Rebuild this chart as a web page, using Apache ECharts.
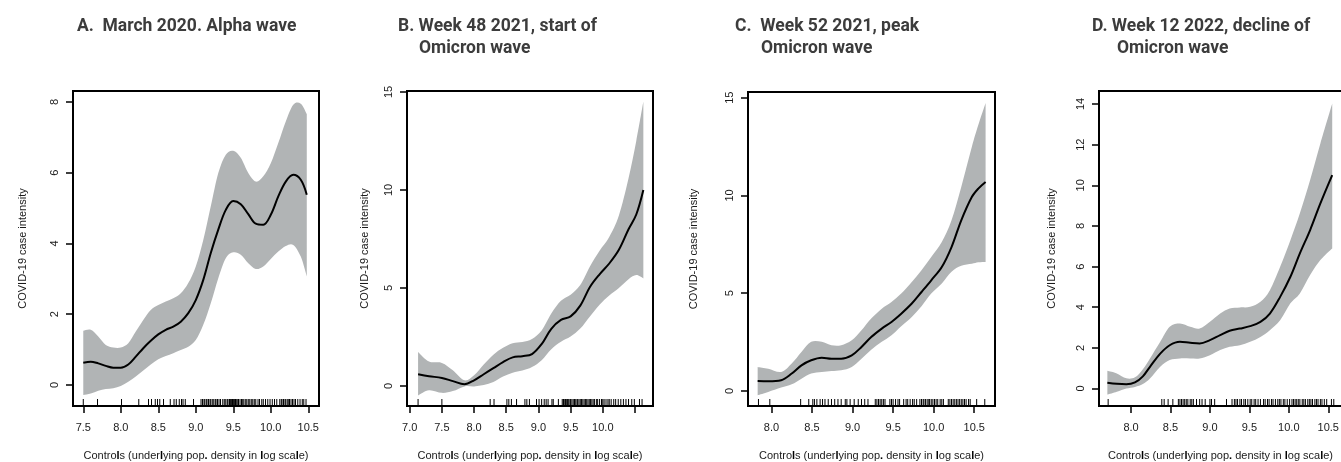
<!DOCTYPE html>
<html>
<head>
<meta charset="utf-8">
<title>COVID-19 case intensity by controls</title>
<script src="https://cdn.jsdelivr.net/npm/echarts@6.0.0/dist/echarts.min.js"></script>
<style>
    html, body { margin: 0; padding: 0; background: #fff; }
    #main { width: 1341px; height: 462px; }
</style>
</head>
<body>
<div id="main"></div>
<script>
// 面板标题 (第二行缩进)
var titleA = ['A.  March 2020. Alpha wave'];
var titleB = ['B. Week 48 2021, start of', 'Omicron wave'];
var titleC = ['C.  Week 52 2021, peak', 'Omicron wave'];
var titleD = ['D. Week 12 2022, decline of', 'Omicron wave'];

// A. March 2020
var xA     = [7.5, 7.6, 7.7, 7.8, 7.9, 8.0, 8.1, 8.2, 8.3, 8.4, 8.5, 8.6, 8.7, 8.8, 8.9, 9.0, 9.1, 9.2, 9.3, 9.4, 9.5, 9.6, 9.7, 9.8, 9.9, 10.0, 10.1, 10.2, 10.3, 10.4, 10.48];
var meanA  = [0.63, 0.66, 0.61, 0.54, 0.49, 0.49, 0.58, 0.8, 1.04, 1.25, 1.43, 1.56, 1.65, 1.79, 2.03, 2.4, 2.97, 3.73, 4.39, 4.95, 5.2, 5.11, 4.83, 4.56, 4.53, 4.81, 5.33, 5.75, 5.94, 5.8, 5.38];
var upperA = [1.53, 1.56, 1.37, 1.13, 1.06, 1.06, 1.18, 1.51, 1.84, 2.12, 2.26, 2.36, 2.45, 2.59, 2.88, 3.35, 4.1, 5.05, 5.99, 6.51, 6.62, 6.42, 5.99, 5.75, 5.9, 6.27, 6.84, 7.45, 7.92, 7.95, 7.66];
var lowerA = [-0.28, -0.24, -0.16, -0.11, -0.09, -0.03, 0.09, 0.24, 0.41, 0.58, 0.73, 0.82, 0.9, 0.99, 1.08, 1.27, 1.7, 2.31, 3.02, 3.58, 3.75, 3.68, 3.44, 3.28, 3.35, 3.56, 3.77, 3.93, 3.96, 3.63, 3.07];
var rugA   = [7.5, 7.69, 8.01, 8.24, 8.37, 8.41, 8.46, 8.49, 8.52, 8.57, 8.66, 8.71, 8.74, 8.78, 8.81, 8.83, 8.86, 8.97, 9.07, 9.09, 9.11, 9.12, 9.14, 9.15, 9.17, 9.19, 9.2, 9.22, 9.24, 9.26, 9.27, 9.29, 9.31, 9.33, 9.36, 9.38, 9.4, 9.42, 9.43, 9.45, 9.46, 9.47, 9.48, 9.49, 9.5, 9.51, 9.52, 9.53, 9.54, 9.56, 9.57, 9.59, 9.61, 9.62, 9.64, 9.66, 9.68, 9.7, 9.72, 9.74, 9.76, 9.78, 9.8, 9.83, 9.85, 9.88, 9.9, 9.93, 9.96, 9.99, 10.02, 10.05, 10.08, 10.12, 10.14, 10.15, 10.17, 10.19, 10.2, 10.22, 10.24, 10.25, 10.27, 10.29, 10.31, 10.33, 10.36, 10.39, 10.42, 10.44, 10.47];
var xTicksA = [7.5, 8, 8.5, 9, 9.5, 10, 10.5];
var xLabelsA = [7.5, 8, 8.5, 9, 9.5, 10, 10.5];
var yTicksA = [0, 2, 4, 6, 8];

// B. Week 48 2021
var xB     = [7.13, 7.3, 7.5, 7.67, 7.85, 8.0, 8.15, 8.3, 8.45, 8.6, 8.75, 8.9, 9.05, 9.2, 9.35, 9.5, 9.65, 9.8, 9.95, 10.1, 10.25, 10.4, 10.52, 10.63];
var meanB  = [0.6, 0.5, 0.41, 0.25, 0.09, 0.29, 0.6, 0.91, 1.22, 1.46, 1.52, 1.63, 2.14, 2.92, 3.37, 3.55, 4.1, 5.05, 5.7, 6.25, 6.95, 8.0, 8.75, 10.0];
var upperB = [1.74, 1.25, 1.18, 0.8, 0.29, 0.55, 1.1, 1.6, 1.95, 2.18, 2.24, 2.4, 2.83, 3.7, 4.35, 4.66, 5.15, 6.1, 6.9, 7.6, 8.7, 10.6, 12.5, 14.51];
var lowerB = [-0.48, -0.22, -0.35, -0.26, -0.02, -0.02, 0.05, 0.2, 0.48, 0.68, 0.79, 0.97, 1.32, 1.88, 2.26, 2.52, 2.93, 3.55, 4.15, 4.62, 5.0, 5.45, 5.66, 5.49];
var rugB   = [7.13, 7.5, 8.25, 8.31, 8.51, 8.54, 8.58, 8.66, 8.79, 8.82, 8.86, 8.97, 9.01, 9.05, 9.09, 9.12, 9.15, 9.21, 9.23, 9.31, 9.37, 9.39, 9.4, 9.42, 9.44, 9.45, 9.47, 9.49, 9.5, 9.52, 9.54, 9.56, 9.58, 9.6, 9.61, 9.63, 9.65, 9.67, 9.69, 9.71, 9.73, 9.75, 9.77, 9.79, 9.81, 9.83, 9.85, 9.87, 9.9, 9.92, 9.95, 9.98, 10.0, 10.02, 10.05, 10.08, 10.1, 10.13, 10.17, 10.2, 10.24, 10.28, 10.32, 10.36, 10.4, 10.45, 10.49, 10.57, 10.61];
var xTicksB = [7, 7.5, 8, 8.5, 9, 9.5, 10, 10.5];
var xLabelsB = [7, 7.5, 8, 8.5, 9, 9.5, 10];
var yTicksB = [0, 5, 10, 15];

// C. Week 52 2021
var xC     = [7.83, 7.96, 8.12, 8.25, 8.37, 8.49, 8.62, 8.74, 8.86, 8.99, 9.11, 9.23, 9.36, 9.48, 9.6, 9.73, 9.85, 9.97, 10.1, 10.22, 10.34, 10.47, 10.55, 10.64];
var meanC  = [0.51, 0.5, 0.55, 0.89, 1.31, 1.57, 1.7, 1.65, 1.65, 1.82, 2.25, 2.76, 3.19, 3.53, 3.95, 4.47, 5.06, 5.66, 6.34, 7.36, 8.73, 9.92, 10.35, 10.69];
var upperC = [1.23, 1.14, 0.97, 1.4, 1.99, 2.51, 2.51, 2.34, 2.34, 2.59, 3.1, 3.7, 4.21, 4.55, 4.98, 5.57, 6.17, 6.85, 7.62, 8.73, 10.43, 12.48, 13.6, 14.73];
var lowerC = [-0.22, -0.05, 0.17, 0.34, 0.63, 0.89, 0.97, 1.02, 1.06, 1.23, 1.65, 2.11, 2.51, 2.85, 3.31, 3.78, 4.33, 4.98, 5.5, 6.1, 6.4, 6.5, 6.58, 6.6];
var rugC   = [7.84, 7.98, 8.36, 8.46, 8.51, 8.53, 8.56, 8.6, 8.63, 8.66, 8.7, 8.74, 8.78, 8.82, 8.86, 8.91, 8.93, 8.97, 9.02, 9.07, 9.11, 9.15, 9.19, 9.28, 9.3, 9.32, 9.34, 9.36, 9.38, 9.4, 9.46, 9.48, 9.5, 9.53, 9.56, 9.58, 9.63, 9.66, 9.68, 9.71, 9.74, 9.76, 9.79, 9.83, 9.85, 9.87, 9.88, 9.9, 9.92, 9.94, 9.95, 9.97, 9.99, 10.01, 10.03, 10.05, 10.08, 10.1, 10.12, 10.18, 10.2, 10.22, 10.24, 10.26, 10.28, 10.3, 10.32, 10.34, 10.36, 10.38, 10.4, 10.43, 10.45, 10.53, 10.63];
var xTicksC = [8, 8.5, 9, 9.5, 10, 10.5];
var xLabelsC = [8, 8.5, 9, 9.5, 10, 10.5];
var yTicksC = [0, 5, 10, 15];

// D. Week 12 2022
var xD     = [7.7, 7.82, 7.94, 8.05, 8.15, 8.24, 8.37, 8.49, 8.62, 8.75, 8.87, 9.0, 9.13, 9.25, 9.38, 9.51, 9.64, 9.76, 9.89, 10.02, 10.14, 10.27, 10.4, 10.55];
var meanD  = [0.28, 0.23, 0.21, 0.3, 0.6, 1.07, 1.72, 2.13, 2.3, 2.25, 2.22, 2.38, 2.63, 2.84, 2.95, 3.07, 3.28, 3.69, 4.51, 5.5, 6.65, 7.8, 9.11, 10.5];
var upperD = [0.87, 0.74, 0.5, 0.55, 0.95, 1.48, 2.3, 3.04, 3.2, 3.04, 2.95, 3.28, 3.69, 3.94, 3.99, 4.02, 4.27, 4.84, 5.99, 7.3, 8.62, 10.26, 12.06, 14.03];
var lowerD = [-0.3, -0.16, 0.0, 0.08, 0.22, 0.49, 1.07, 1.4, 1.48, 1.48, 1.48, 1.64, 1.89, 2.05, 2.13, 2.3, 2.54, 2.87, 3.36, 4.19, 4.68, 5.58, 6.32, 6.89];
var rugD   = [7.71, 8.39, 8.42, 8.47, 8.53, 8.6, 8.62, 8.64, 8.66, 8.68, 8.7, 8.72, 8.75, 8.77, 8.79, 8.83, 8.87, 8.9, 8.94, 9.0, 9.02, 9.06, 9.21, 9.28, 9.31, 9.33, 9.35, 9.38, 9.4, 9.43, 9.45, 9.48, 9.51, 9.53, 9.56, 9.58, 9.61, 9.64, 9.68, 9.7, 9.73, 9.75, 9.78, 9.8, 9.83, 9.86, 9.88, 9.9, 9.93, 9.95, 9.98, 10.01, 10.04, 10.06, 10.08, 10.1, 10.12, 10.14, 10.17, 10.19, 10.21, 10.24, 10.26, 10.28, 10.3, 10.33, 10.35, 10.37, 10.4, 10.42, 10.45, 10.48, 10.54, 10.57];
var xTicksD = [8, 8.5, 9, 9.5, 10, 10.5];
var xLabelsD = [8, 8.5, 9, 9.5, 10, 10.5];
var yTicksD = [0, 2, 4, 6, 8, 10, 12, 14];

var Y_NAME = 'COVID-19 case intensity';
// 原图里 l 和 . 显得加粗
var X_NAME = 'Contro{b|l}s (under{b|l}ying pop{b|.} density in {b|l}og sca{b|l}e)';

var BAND = '#b1b4b5';
var AXIS_FONT = '"Liberation Sans", Arial, sans-serif';
var TITLE_FONT = 'Roboto, "Noto Sans", sans-serif';

// 布局 (px) 和坐标范围
var panels = [
    { title: titleA, tx: [77], grid: [73, 91, 246, 315], xr: [7.363, 10.643], yr: [-0.594, 8.31], yGap: 45,
      x: xA, mean: meanA, upper: upperA, lower: lowerA, rug: rugA, xt: xTicksA, xl: xLabelsA, yt: yTicksA },
    { title: titleB, tx: [398, 419], grid: [407, 91, 246, 315], xr: [6.958, 10.78], yr: [-1.02, 15.05], yGap: 37,
      x: xB, mean: meanB, upper: upperB, lower: lowerB, rug: rugB, xt: xTicksB, xl: xLabelsB, yt: yTicksB },
    { title: titleC, tx: [735, 761], grid: [748, 92, 247, 314], xr: [7.711, 10.756], yr: [-0.77, 15.29], yGap: 49,
      x: xC, mean: meanC, upper: upperC, lower: lowerC, rug: rugC, xt: xTicksC, xl: xLabelsC, yt: yTicksC },
    { title: titleD, tx: [1092, 1117], grid: [1099, 91, 243, 315], xr: [7.594, 10.674], yr: [-0.86, 14.64], yGap: 42,
      x: xD, mean: meanD, upper: upperD, lower: lowerD, rug: rugD, xt: xTicksD, xl: xLabelsD, yt: yTicksD }
];

function pairs(xs, ys) {
    return xs.map(function (v, i) { return [v, ys[i]]; });
}

// Catmull-Rom 曲线段 (像素坐标)
function curvePath(pts, startCmd) {
    var d = startCmd + pts[0][0] + ' ' + pts[0][1];
    for (var i = 0; i < pts.length - 1; i++) {
        var p0 = pts[Math.max(i - 1, 0)], p1 = pts[i], p2 = pts[i + 1], p3 = pts[Math.min(i + 2, pts.length - 1)];
        var c1x = p1[0] + (p2[0] - p0[0]) / 6, c1y = p1[1] + (p2[1] - p0[1]) / 6;
        var c2x = p2[0] - (p3[0] - p1[0]) / 6, c2y = p2[1] - (p3[1] - p1[1]) / 6;
        d += ' C' + c1x + ' ' + c1y + ' ' + c2x + ' ' + c2y + ' ' + p2[0] + ' ' + p2[1];
    }
    return d;
}

function bandItem(p) {
    return function (params, api) {
        var up = p.x.map(function (v, k) { return api.coord([v, p.upper[k]]); });
        var lo = p.x.map(function (v, k) { return api.coord([v, p.lower[k]]); }).reverse();
        var d = curvePath(up, 'M') + ' ' + curvePath(lo, 'L').replace(/^L/, 'L') + ' Z';
        return {
            type: 'path',
            shape: { pathData: d },
            style: { fill: BAND, stroke: null }
        };
    };
}

function buildOption() {
    var option = {
        backgroundColor: '#fff',
        animation: false,
        title: [], grid: [], xAxis: [], yAxis: [], series: []
    };

    panels.forEach(function (p, i) {
        // 标题
        p.title.forEach(function (line, k) {
            option.title.push({
                text: line, left: p.tx[k], top: 16 + k * 22, padding: 0,
                textStyle: { fontFamily: TITLE_FONT, fontSize: 17.5, fontWeight: 'bold', color: '#3c3c3c', lineHeight: 22 }
            });
        });

        option.grid.push({
            left: p.grid[0], top: p.grid[1], width: p.grid[2], height: p.grid[3],
            show: true, borderColor: '#000', borderWidth: 2, backgroundColor: 'transparent',
            outerBoundsMode: 'none', containLabel: false
        });

        option.xAxis.push({
            type: 'value', gridIndex: i, min: p.xr[0], max: p.xr[1], position: 'bottom',
            axisLine: { show: false, onZero: false }, splitLine: { show: false },
            axisTick: { show: true, length: 7, customValues: p.xt, lineStyle: { color: '#000', width: 1.5 } },
            axisLabel: {
                customValues: p.xl, margin: 16, fontFamily: AXIS_FONT, fontSize: 11, color: '#1a1a1a',
                formatter: function (v) { return Number(v).toFixed(1); }
            },
            name: X_NAME, nameLocation: 'middle', nameGap: 44,
            nameTextStyle: {
                fontFamily: AXIS_FONT, fontSize: 11, color: '#1a1a1a',
                rich: { b: { fontFamily: AXIS_FONT, fontSize: 11, fontWeight: 'bold', color: '#000' } }
            }
        });

        option.yAxis.push({
            type: 'value', gridIndex: i, min: p.yr[0], max: p.yr[1],
            axisLine: { show: false, onZero: false }, splitLine: { show: false },
            axisTick: { show: true, length: 7, customValues: p.yt, lineStyle: { color: '#000', width: 1.5 } },
            axisLabel: { customValues: p.yt, rotate: 90, margin: 13, fontFamily: AXIS_FONT, fontSize: 11, color: '#1a1a1a' },
            name: Y_NAME, nameLocation: 'middle', nameGap: p.yGap,
            nameTextStyle: { fontFamily: AXIS_FONT, fontSize: 11, color: '#1a1a1a' }
        });

        // 置信带
        option.series.push({
            type: 'custom', xAxisIndex: i, yAxisIndex: i, silent: true, z: 1,
            data: [[p.x[0], p.lower[0]]],
            renderItem: bandItem(p)
        });
        // 拟合曲线
        option.series.push({
            type: 'line', xAxisIndex: i, yAxisIndex: i, data: pairs(p.x, p.mean),
            symbol: 'none', smooth: 0.35, silent: true,
            lineStyle: { color: '#000', width: 2 }, z: 3
        });
        // rug
        option.series.push({
            type: 'custom', xAxisIndex: i, yAxisIndex: i, silent: true, z: 4,
            data: p.rug.map(function (v) { return [v, 0]; }),
            renderItem: function (params, api) {
                var px = api.coord([api.value(0), 0])[0];
                var bottom = params.coordSys.y + params.coordSys.height - 1;
                return {
                    type: 'line',
                    shape: { x1: px, y1: bottom, x2: px, y2: bottom - 6 },
                    style: { stroke: '#000', lineWidth: 1 }
                };
            }
        });
    });

    return option;
}

var chart = echarts.init(document.getElementById('main'), null, { renderer: 'canvas' });
chart.setOption(buildOption());
</script>
</body>
</html>
